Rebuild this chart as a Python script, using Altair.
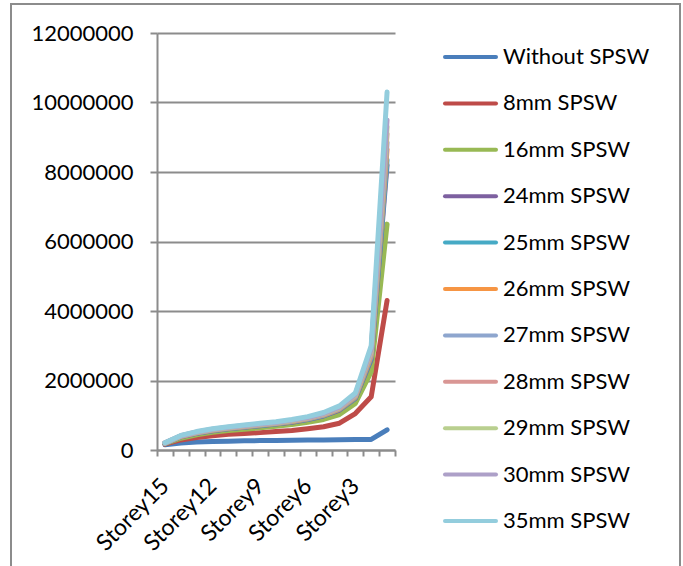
import altair as alt
import pandas as pd

storeys = ["Storey15", "Storey14", "Storey13", "Storey12", "Storey11", "Storey10", "Storey9",
           "Storey8", "Storey7", "Storey6", "Storey5", "Storey4", "Storey3", "Storey2", "Storey1"]
shown_labels = ["Storey15", "Storey12", "Storey9", "Storey6", "Storey3"]

series = ["Without SPSW", "8mm SPSW", "16mm SPSW", "24mm SPSW", "25mm SPSW", "26mm SPSW",
          "27mm SPSW", "28mm SPSW", "29mm SPSW", "30mm SPSW", "35mm SPSW"]
colors = ["#4A7EBB", "#BE4B48", "#98B954", "#7D60A0", "#46AAC5", "#F69544",
          "#8EA6CE", "#D99694", "#B9CF8F", "#ADA0C8", "#93CDDD"]

without = [150000, 200000, 230000, 245000, 255000, 265000, 270000, 275000, 280000, 285000, 290000, 295000, 300000, 305000, 580000]
mm8 = [170000, 290000, 360000, 410000, 450000, 475000, 500000, 530000, 560000, 610000, 670000, 770000, 1050000, 1530000, 4300000]
mm16 = [180000, 340000, 440000, 510000, 560000, 600000, 640000, 680000, 730000, 800000, 880000, 1020000, 1340000, 2250000, 6500000]
mm24 = [190000, 380000, 480000, 555000, 610000, 655000, 700000, 745000, 800000, 875000, 980000, 1150000, 1480000, 2600000, 8200000]
mm25 = [190000, 385000, 487000, 562000, 617000, 662000, 708000, 752000, 810000, 885000, 990000, 1165000, 1500000, 2650000, 8350000]
mm26 = [195000, 390000, 493000, 568000, 624000, 670000, 716000, 760000, 820000, 895000, 1002000, 1178000, 1520000, 2700000, 8650000]
mm27 = [198000, 395000, 499000, 575000, 631000, 678000, 724000, 768000, 830000, 905000, 1014000, 1192000, 1540000, 2750000, 8850000]
mm28 = [200000, 400000, 505000, 582000, 638000, 686000, 732000, 776000, 840000, 915000, 1026000, 1206000, 1560000, 2800000, 9100000]
mm29 = [202000, 405000, 511000, 589000, 645000, 694000, 740000, 784000, 850000, 925000, 1038000, 1220000, 1580000, 2850000, 9300000]
mm30 = [205000, 410000, 517000, 596000, 652000, 702000, 748000, 792000, 860000, 935000, 1050000, 1234000, 1600000, 2900000, 9500000]
mm35 = [210000, 420000, 530000, 610000, 670000, 720000, 770000, 815000, 880000, 960000, 1080000, 1270000, 1640000, 3000000, 10300000]

y_ticks = [0, 2000000, 4000000, 6000000, 8000000, 10000000, 12000000]

all_values = [without, mm8, mm16, mm24, mm25, mm26, mm27, mm28, mm29, mm30, mm35]
rows = []
for name, vals in zip(series, all_values):
    for st, v in zip(storeys, vals):
        rows.append({"series": name, "storey": st, "value": v})
df = pd.DataFrame(rows)
legend_df = pd.DataFrame({"series": series})
frame_df = pd.DataFrame({"k": [0]})

FONT = "Lato"
FS = 22
GRAY = "#8c8c8c"

color_scale = alt.Scale(domain=series, range=colors)
label_expr = "indexof(" + str(shown_labels) + ", datum.value) >= 0 ? datum.value : ''"

lines = alt.Chart(df).mark_line(strokeWidth=5, strokeCap="round", strokeJoin="round").encode(
    x=alt.X("storey:N", sort=storeys, bandPosition=0.5,
            scale=alt.Scale(type="band", paddingInner=0, paddingOuter=0),
            axis=alt.Axis(title=None, tickBand="extent", labelExpr=label_expr, labelOverlap=False,
                          labelAngle=-45, labelAlign="right", labelBaseline="middle",
                          labelFontSize=23, labelPadding=26, labelOffset=0, tickSize=6)),
    y=alt.Y("value:Q", scale=alt.Scale(domain=[0, 12000000], nice=False),
            axis=alt.Axis(title=None, values=y_ticks, format="d", grid=True,
                          tickSize=7, labelPadding=17)),
    color=alt.Color("series:N", scale=color_scale, legend=None),
    detail="series:N",
)

legend_y = alt.Y("series:N", sort=series, scale=alt.Scale(type="point", range=[24, 488], padding=0), axis=None)

legend_rules = alt.Chart(legend_df).mark_rule(strokeWidth=4, strokeCap="round").encode(
    x=alt.value(288), x2=alt.value(339), y=legend_y,
    color=alt.Color("series:N", scale=color_scale, legend=None),
)
legend_text = alt.Chart(legend_df).mark_text(align="left", baseline="middle", font=FONT,
                                             fontSize=FS, color="#000000").encode(
    x=alt.value(346), y=legend_y, text="series:N",
)
frame = alt.Chart(frame_df).mark_rect(fillOpacity=0, stroke=GRAY, strokeWidth=2).encode(
    x=alt.value(-146), x2=alt.value(523), y=alt.value(-29), y2=alt.value(620),
)

chart = alt.layer(frame, lines, legend_rules, legend_text).resolve_scale(y="independent").properties(
    width=238, height=417,
    autosize=alt.AutoSizeParams(type="none"),
    padding={"left": 157, "top": 33, "right": 288, "bottom": 116},
    background="white",
).configure_view(stroke=None).configure_axis(
    labelFont=FONT, labelFontSize=FS, labelColor="#000000",
    domainColor=GRAY, domainWidth=2, tickColor=GRAY, tickWidth=2,
    gridColor=GRAY, gridWidth=2,
).configure_axisX(grid=False)

chart.save("out.html", embed_options={"renderer": "svg", "actions": False})
